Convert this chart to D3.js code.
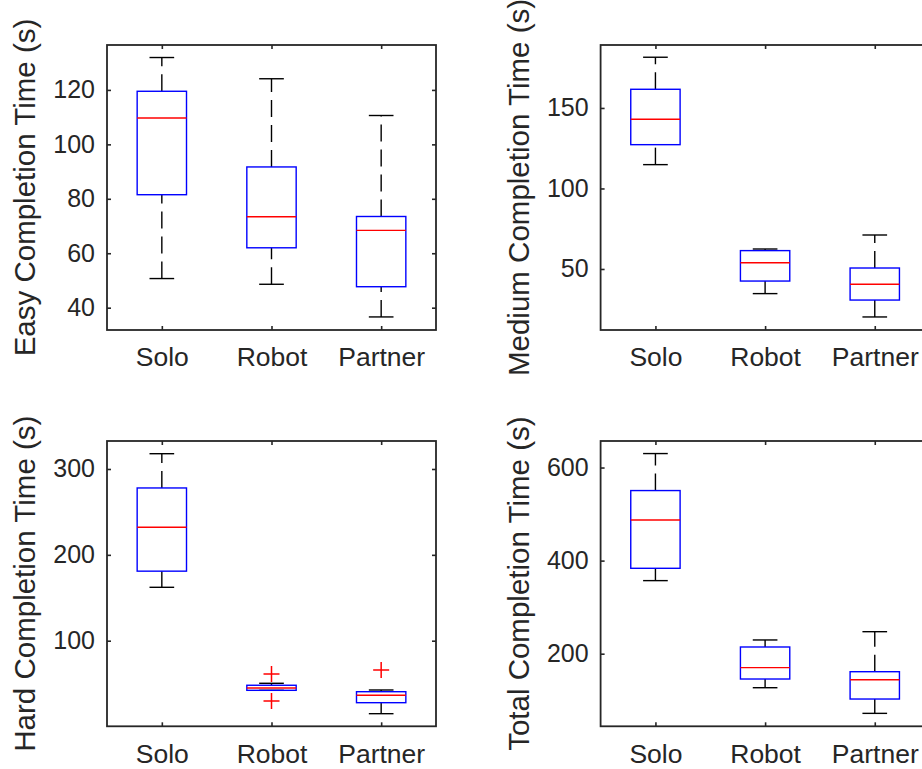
<!DOCTYPE html>
<html>
<head>
<meta charset="utf-8">
<script src="https://cdn.jsdelivr.net/npm/d3@7"></script>
<style>
  body { margin: 0; background: #fff; }
  svg { display: block; overflow: hidden; }
</style>
</head>
<body>
<script>
// groups along the x axis
var groups = ['Solo', 'Robot', 'Partner'];

// five-number summaries per group: [lower whisker, Q1, median, Q3, upper whisker]
var easyStats = [[50.7, 81.5, 109.7, 119.5, 131.9], [48.6, 62.0, 73.4, 91.7, 124.1], [36.6, 47.7, 68.4, 73.5, 110.6]];
var mediumStats = [[114.8, 127.2, 143.0, 161.6, 181.5], [34.7, 42.5, 53.9, 61.4, 62.4], [20.2, 30.7, 40.5, 50.6, 71.1]];
var hardStats = [[162.2, 181.0, 232.1, 277.9, 317.8], [42.2, 42.2, 44.9, 48.1, 50.4], [15.0, 27.8, 36.4, 40.6, 42.6]];
var totalStats = [[357.0, 383.5, 487.4, 550.5, 630.0], [126.9, 145.6, 170.0, 214.4, 229.5], [71.8, 102.6, 144.1, 161.3, 247.3]];

// outliers per group
var easyOutliers = [[], [], []];
var mediumOutliers = [[], [], []];
var hardOutliers = [[], [61.2, 29.8], [65.9]];
var totalOutliers = [[], [], []];

// y limits and ticks
var easyDomain = [31.8, 136.5], easyTicks = [40, 60, 80, 100, 120];
var mediumDomain = [12.1, 189.1], mediumTicks = [50, 100, 150];
var hardDomain = [0.3, 332.6], hardTicks = [100, 200, 300];
var totalDomain = [44, 657], totalTicks = [200, 400, 600];

var labels = ['Easy Completion Time (s)', 'Medium Completion Time (s)', 'Hard Completion Time (s)', 'Total Completion Time (s)'];

// layout
var W = 922, H = 769;
var AXCOL = '#262626';
var FONT = '"Liberation Sans", Arial, Helvetica, sans-serif';

var panels = [
  { stats: easyStats, out: easyOutliers, dom: easyDomain, ticks: easyTicks, label: labels[0], x0: 107, x1: 436, y0: 45, y1: 330 },
  { stats: mediumStats, out: mediumOutliers, dom: mediumDomain, ticks: mediumTicks, label: labels[1], x0: 600.6, x1: 929.6, y0: 45, y1: 330 },
  { stats: hardStats, out: hardOutliers, dom: hardDomain, ticks: hardTicks, label: labels[2], x0: 107, x1: 436, y0: 441, y1: 726.3 },
  { stats: totalStats, out: totalOutliers, dom: totalDomain, ticks: totalTicks, label: labels[3], x0: 600.6, x1: 929.6, y0: 441, y1: 726.3 }
];

var svg = d3.select('body').append('svg')
  .attr('width', W)
  .attr('height', H)
  .style('font-family', FONT);

panels.forEach(function(p) {
  var x = d3.scalePoint().domain(groups).range([p.x0, p.x1]).padding(0.5);
  var y = d3.scaleLinear().domain(p.dom).range([p.y1, p.y0]);
  var step = x.step();
  var bw = step * 0.45;   // box width
  var cw = bw / 2;        // whisker cap width

  var g = svg.append('g');

  // ---- axes: ticks point inward on all four sides ----
  var left = g.append('g')
    .attr('transform', 'translate(' + p.x0 + ',0)')
    .call(d3.axisLeft(y).tickValues(p.ticks).tickSize(-4).tickPadding(12));
  var right = g.append('g')
    .attr('transform', 'translate(' + p.x1 + ',0)')
    .call(d3.axisRight(y).tickValues(p.ticks).tickSize(-4).tickFormat(''));
  var bottom = g.append('g')
    .attr('transform', 'translate(0,' + p.y1 + ')')
    .call(d3.axisBottom(x).tickSize(-4).tickPadding(17.5));
  var top = g.append('g')
    .attr('transform', 'translate(0,' + p.y0 + ')')
    .call(d3.axisTop(x).tickSize(-4).tickFormat(''));

  [left, right, bottom, top].forEach(function(a) {
    a.select('.domain').remove();
    a.selectAll('line').attr('stroke', AXCOL).attr('stroke-width', 1.6);
    a.selectAll('text').attr('fill', AXCOL).style('font-family', FONT);
  });
  left.selectAll('text').style('font-size', '25px');
  bottom.selectAll('text').style('font-size', '26.5px');

  // frame
  g.append('rect')
    .attr('x', p.x0).attr('y', p.y0)
    .attr('width', p.x1 - p.x0).attr('height', p.y1 - p.y0)
    .attr('fill', 'none').attr('stroke', AXCOL).attr('stroke-width', 1.8);

  // y label
  g.append('text')
    .attr('transform', 'translate(' + (p.x0 - 72) + ',' + ((p.y0 + p.y1) / 2) + ') rotate(-90)')
    .attr('text-anchor', 'middle')
    .attr('fill', AXCOL)
    .style('font-size', '29.5px')
    .text(p.label);

  // ---- boxes ----
  var box = g.selectAll('.box')
    .data(p.stats)
    .enter().append('g')
    .attr('class', 'box');

  // whiskers are drawn bottom-to-top so the dash phase starts at the lower end
  box.append('line')
    .attr('x1', function(d, i) { return x(groups[i]); })
    .attr('x2', function(d, i) { return x(groups[i]); })
    .attr('y1', function(d) { return y(d[0]); })
    .attr('y2', function(d) { return y(d[1]); })
    .attr('stroke', '#000').attr('stroke-width', 1.4).attr('stroke-dasharray', '17,8');
  box.append('line')
    .attr('x1', function(d, i) { return x(groups[i]); })
    .attr('x2', function(d, i) { return x(groups[i]); })
    .attr('y1', function(d) { return y(d[3]); })
    .attr('y2', function(d) { return y(d[4]); })
    .attr('stroke', '#000').attr('stroke-width', 1.4).attr('stroke-dasharray', '17,8');

  // caps
  [0, 4].forEach(function(k) {
    box.append('line')
      .attr('x1', function(d, i) { return x(groups[i]) - cw / 2; })
      .attr('x2', function(d, i) { return x(groups[i]) + cw / 2; })
      .attr('y1', function(d) { return y(d[k]); })
      .attr('y2', function(d) { return y(d[k]); })
      .attr('stroke', '#000').attr('stroke-width', 1.4);
  });

  box.append('rect')
    .attr('x', function(d, i) { return x(groups[i]) - bw / 2; })
    .attr('y', function(d) { return y(d[3]); })
    .attr('width', bw)
    .attr('height', function(d) { return y(d[1]) - y(d[3]); })
    .attr('fill', 'none').attr('stroke', '#0000ff').attr('stroke-width', 1.4);

  box.append('line')
    .attr('x1', function(d, i) { return x(groups[i]) - bw / 2; })
    .attr('x2', function(d, i) { return x(groups[i]) + bw / 2; })
    .attr('y1', function(d) { return y(d[2]); })
    .attr('y2', function(d) { return y(d[2]); })
    .attr('stroke', '#ff0000').attr('stroke-width', 1.4);

  // outliers as red plus signs
  var pts = [];
  p.out.forEach(function(list, i) {
    list.forEach(function(v) { pts.push({ grp: groups[i], v: v }); });
  });
  g.selectAll('.outlier')
    .data(pts)
    .enter().append('path')
    .attr('class', 'outlier')
    .attr('d', function(d) {
      var cx = x(d.grp), cy = y(d.v), r = 8;
      return 'M' + (cx - r) + ',' + cy + 'H' + (cx + r) + 'M' + cx + ',' + (cy - r) + 'V' + (cy + r);
    })
    .attr('stroke', '#ff0000').attr('stroke-width', 1.5).attr('fill', 'none');
});
</script>
</body>
</html>
